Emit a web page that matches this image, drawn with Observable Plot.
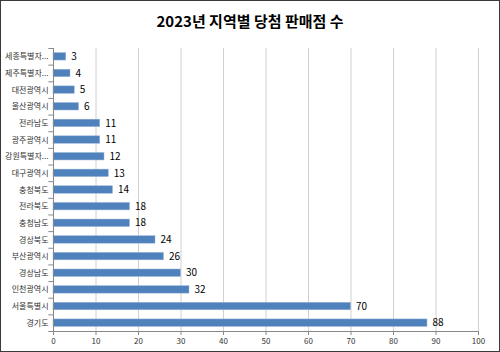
<!DOCTYPE html>
<html><head><meta charset="utf-8">
<script src="https://cdn.jsdelivr.net/npm/d3@7"></script>
<script src="https://cdn.jsdelivr.net/npm/@observablehq/plot@0.6"></script>
<style>
html,body{margin:0;padding:0;background:#fff;}
#wrap{width:500px;height:352px;box-sizing:border-box;border:1px solid #3a3a3a;font-family:"Noto Sans CJK KR",sans-serif;overflow:hidden;}
#title{height:40px;line-height:40px;text-align:center;font-weight:bold;font-size:15px;color:#000;}
#chart svg{display:block;}
</style></head>
<body><div id="wrap"><div id="title">2023년 지역별 당첨 판매점 수</div><div id="chart"></div></div>
<script>
const regions = ["세종특별자...","제주특별자...","대전광역시","울산광역시","전라남도","광주광역시","강원특별자...","대구광역시","충청북도","전라북도","충청남도","경상북도","부산광역시","경상남도","인천광역시","서울특별시","경기도"];
const counts = [3,4,5,6,11,11,12,13,14,18,18,24,26,30,32,70,88];
const xTicks = [0,10,20,30,40,50,60,70,80,90,100];

const data = regions.map((r,i)=>({region:r,count:counts[i]}));
const W = 498, H = 310, mT = 7, mB = 20;
const band = (H - mT - mB) / regions.length;

const plot = Plot.plot({
  width: W, height: H,
  marginLeft: 52, marginRight: 21, marginTop: mT, marginBottom: mB,
  style: {fontFamily: '"Noto Sans CJK KR", sans-serif', background: "#fff"},
  x: {domain: [0,100], ticks: xTicks, label: null},
  y: {domain: regions, label: null, paddingInner: 0.55, paddingOuter: 0.275, round: false},
  marks: [
    Plot.gridX(xTicks, {stroke: "#d0d0d0", strokeOpacity: 1}),
    Plot.barX(data, {x: "count", y: "region", fill: "#4F81BD", stroke: "#9db6d8", strokeWidth: 0.5}),
    Plot.text(data, {x: "count", y: "region", text: d => String(d.count), textAnchor: "start", dx: 5, fontSize: 10, fill: "#000"}),
    Plot.ruleX([0], {stroke: "#888"}),
    Plot.ruleY([regions[regions.length-1]], {x1: -1.1, x2: 0, dy: band/2, stroke: "#888"}),
    Plot.ruleY(regions, {x1: -1.1, x2: 0, dy: -band/2, stroke: "#888"}),
    Plot.axisY({tickSize: 0, tickPadding: 5, fontSize: 8, fill: "#333"}),
    Plot.axisX(xTicks, {tickSize: 4, tickPadding: 3, fontSize: 8, fill: "#333", stroke: "#888"}),
    Plot.ruleY([regions[regions.length-1]], {x1: 0, x2: 100, dy: band/2, stroke: "#888"})
  ]
});
document.getElementById("chart").appendChild(plot);
</script></body></html>
